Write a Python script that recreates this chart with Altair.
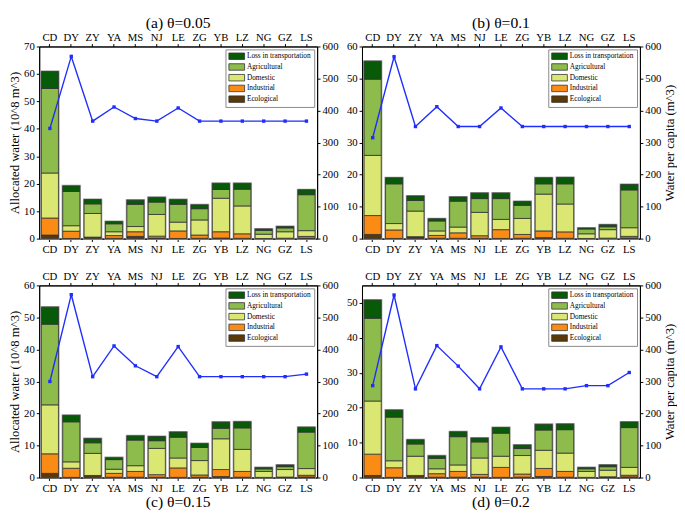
import altair as alt
import pandas as pd

sites = ["CD", "DY", "ZY", "YA", "MS", "NJ", "LE", "ZG", "YB", "LZ", "NG", "GZ", "LS"]
components = ["Loss in transportation", "Agricultural", "Domestic", "Industrial", "Ecological"]
colors = ["#075a07", "#8dbb4c", "#dbe773", "#fa8c16", "#5a3808"]
stack_rank = {"Ecological": 0, "Industrial": 1, "Domestic": 2, "Agricultural": 3, "Loss in transportation": 4}

# (a) theta = 0.05   (10^8 m^3)
a_eco = [1.3, 0.05, 0.5, 0.1, 0.8, 0.2, 0.05, 0.1, 0.2, 0.1, 0.02, 0.05, 0.2]
a_ind = [6.2, 2.65, 0.05, 1.0, 1.7, 0.7, 2.75, 1.2, 2.3, 1.65, 0.03, 0.1, 0.6]
a_dom = [16.4, 2.0, 8.6, 1.4, 1.9, 7.9, 3.2, 5.5, 12.2, 10.15, 1.55, 2.35, 2.1]
a_agr = [30.8, 12.5, 3.5, 2.9, 8.1, 4.5, 6.5, 4.1, 3.2, 6.1, 1.4, 1.4, 13.1]
a_loss = [6.2, 2.0, 1.6, 0.8, 1.5, 1.7, 1.7, 1.4, 2.2, 2.1, 0.5, 0.5, 1.8]
a_pc = [344, 569, 367, 411, 375, 367, 408, 367, 367, 367, 367, 367, 367]

# (b) theta = 0.1
b_eco = [1.3, 0.05, 0.5, 0.1, 0.1, 0.1, 0.05, 0.1, 0.3, 0.1, 0.02, 0.1, 0.2]
b_ind = [5.9, 2.65, 0.1, 0.9, 1.7, 0.8, 2.75, 1.2, 2.1, 2.0, 0.03, 0.05, 0.5]
b_dom = [18.8, 2.0, 8.0, 1.4, 1.8, 7.3, 3.2, 5.0, 11.5, 8.7, 1.45, 2.65, 2.7]
b_agr = [23.8, 12.4, 3.3, 3.1, 8.1, 4.3, 6.5, 4.1, 3.2, 6.3, 1.5, 0.9, 11.8]
b_loss = [5.6, 1.9, 1.4, 0.7, 1.3, 1.7, 1.7, 1.2, 1.9, 2.0, 0.3, 0.6, 1.7]
b_pc = [315, 568, 350, 412, 350, 350, 408, 350, 350, 350, 350, 350, 350]

# (c) theta = 0.15
c_eco = [1.3, 0.05, 0.6, 0.1, 0.1, 0.1, 0.05, 0.1, 0.3, 0.1, 0.02, 0.1, 0.2]
c_ind = [6.1, 2.85, 0.05, 1.2, 1.8, 0.8, 2.95, 0.7, 2.2, 1.8, 0.03, 0.05, 0.5]
c_dom = [15.3, 2.0, 6.9, 1.3, 1.8, 8.2, 3.1, 4.5, 9.6, 6.9, 1.85, 2.35, 2.1]
c_agr = [25.2, 12.5, 3.3, 3.0, 8.0, 2.4, 6.5, 4.1, 3.3, 6.7, 0.8, 0.9, 11.4]
c_loss = [5.3, 2.0, 1.3, 0.6, 1.3, 1.3, 1.6, 1.2, 1.9, 1.9, 0.4, 0.5, 1.5]
c_pc = [300, 571, 315, 411, 349, 315, 409, 315, 315, 315, 315, 315, 323]

# (d) theta = 0.2
d_eco = [0.6, 0.05, 0.55, 0.1, 0.1, 0.1, 0.05, 0.1, 0.3, 0.1, 0.02, 0.15, 0.2]
d_ind = [6.1, 2.75, 0.05, 1.0, 1.65, 0.8, 2.85, 0.9, 2.3, 1.65, 0.03, 0.05, 0.45]
d_dom = [15.2, 2.0, 5.5, 1.4, 1.85, 4.7, 3.2, 5.3, 5.2, 5.25, 1.7, 1.9, 2.25]
d_agr = [23.7, 12.5, 3.5, 3.0, 8.1, 4.6, 6.6, 2.0, 5.8, 6.7, 0.75, 1.0, 11.4]
d_loss = [5.2, 2.0, 1.2, 0.7, 1.4, 1.1, 1.6, 1.0, 1.6, 1.6, 0.35, 0.5, 1.6]
d_pc = [287, 570, 277, 412, 348, 277, 408, 277, 277, 277, 287, 287, 328]

SERIF = "Liberation Serif"
BLUE = "#1f2dff"
W, H = 285, 197


def panel(eco, ind, dom, agr, loss, pc, title, ymax, left_title, right_title, title_orient):
    rows = []
    for comp, vals in [("Ecological", eco), ("Industrial", ind), ("Domestic", dom),
                       ("Agricultural", agr), ("Loss in transportation", loss)]:
        for s, v in zip(sites, vals):
            rows.append({"site": s, "component": comp, "value": v, "rank": stack_rank[comp]})
    bar_df = pd.DataFrame(rows)
    pc_df = pd.DataFrame({"site": sites, "pc": pc})

    xscale = alt.Scale(paddingInner=0.2, paddingOuter=0.1)
    yscale = alt.Scale(domain=[0, ymax], nice=False, zero=True)

    left_axis = dict(values=list(range(0, ymax + 1, 10)), orient="left", tickSize=3,
                     labelPadding=2, titlePadding=2)
    left_axis["title"] = left_title if left_title else None

    # grey halo around each stacked column
    halo = alt.Chart(bar_df).transform_aggregate(
        total="sum(value)", groupby=["site"]
    ).mark_bar(fill="#9a9a9a", stroke="#9a9a9a", strokeWidth=2.2).encode(
        x=alt.X("site:N", sort=sites, scale=xscale, axis=None),
        y=alt.Y("total:Q", scale=yscale, axis=None),
    )

    bars = alt.Chart(bar_df).mark_bar(stroke="#333333", strokeWidth=0.8).encode(
        x=alt.X("site:N", sort=sites, scale=xscale,
                axis=alt.Axis(orient="bottom", title=None, labelAngle=0, labelPadding=2, tickSize=3)),
        y=alt.Y("value:Q", stack="zero", scale=yscale, axis=alt.Axis(**left_axis)),
        color=alt.Color("component:N",
                        scale=alt.Scale(domain=components, range=colors),
                        legend=alt.Legend(title=None, orient="top-right", offset=3)),
        order=alt.Order("rank:Q", sort="ascending"),
    )

    right_axis = dict(orient="right", values=list(range(0, 601, 100)), tickSize=3,
                      labelPadding=2, titlePadding=3, titleAngle=270, titleBaseline="top")
    right_axis["title"] = right_title if right_title else None

    line = alt.Chart(pc_df).mark_line(
        color=BLUE, strokeWidth=1.4,
        point=alt.OverlayMarkDef(shape="square", size=12, color=BLUE, filled=True),
    ).encode(
        x=alt.X("site:N", sort=sites,
                axis=alt.Axis(orient="top", title=None, labelAngle=0, labelPadding=1, tickSize=3)),
        y=alt.Y("pc:Q", scale=alt.Scale(domain=[0, 600], nice=False),
                axis=alt.Axis(**right_axis)),
    )

    return alt.layer(halo, bars, line).resolve_scale(y="independent").resolve_axis(
        x="independent", y="independent"
    ).properties(
        width=W, height=H,
        title=alt.TitleParams(title, orient=title_orient, fontSize=16, font=SERIF,
                              fontWeight="normal", offset=1, anchor="middle"),
    )


pa = panel(a_eco, a_ind, a_dom, a_agr, a_loss, a_pc, "(a) θ=0.05", 70,
           "Allocated water (10^8 m^3)", None, "top")
pb = panel(b_eco, b_ind, b_dom, b_agr, b_loss, b_pc, "(b) θ=0.1", 60,
           None, "Water per capita (m^3)", "top")
pc_ = panel(c_eco, c_ind, c_dom, c_agr, c_loss, c_pc, "(c) θ=0.15", 60,
            "Allocated water (10^8 m^3)", None, "bottom")
pd_ = panel(d_eco, d_ind, d_dom, d_agr, d_loss, d_pc, "(d) θ=0.2", 55,
            None, "Water per capita (m^3)", "bottom")

chart = alt.concat(
    pa, pb, pc_, pd_, columns=2, spacing={"row": 48, "column": 46}, bounds="flush"
).resolve_scale(
    color="independent"
).properties(
    padding={"left": 0, "top": 0, "right": 0, "bottom": 0}
).configure(
    background="white",
).configure_view(
    stroke="black", strokeWidth=1,
).configure_axis(
    labelFont=SERIF, labelFontSize=11, labelColor="black",
    titleFont=SERIF, titleFontSize=13, titleFontWeight="normal", titleColor="black",
    domainColor="black", tickColor="black", grid=False,
).configure_legend(
    labelFont=SERIF, labelFontSize=7.5, labelColor="black",
    symbolType="M-1,-0.95H3.6V0.95H-1Z", symbolSize=49,
    symbolStrokeColor="#333333", symbolStrokeWidth=0.8,
    strokeColor="#888888", fillColor="white", padding=3,
    rowPadding=1, labelOffset=11, cornerRadius=0,
)

chart.save("out.html", embed_options={"renderer": "svg", "actions": False})
